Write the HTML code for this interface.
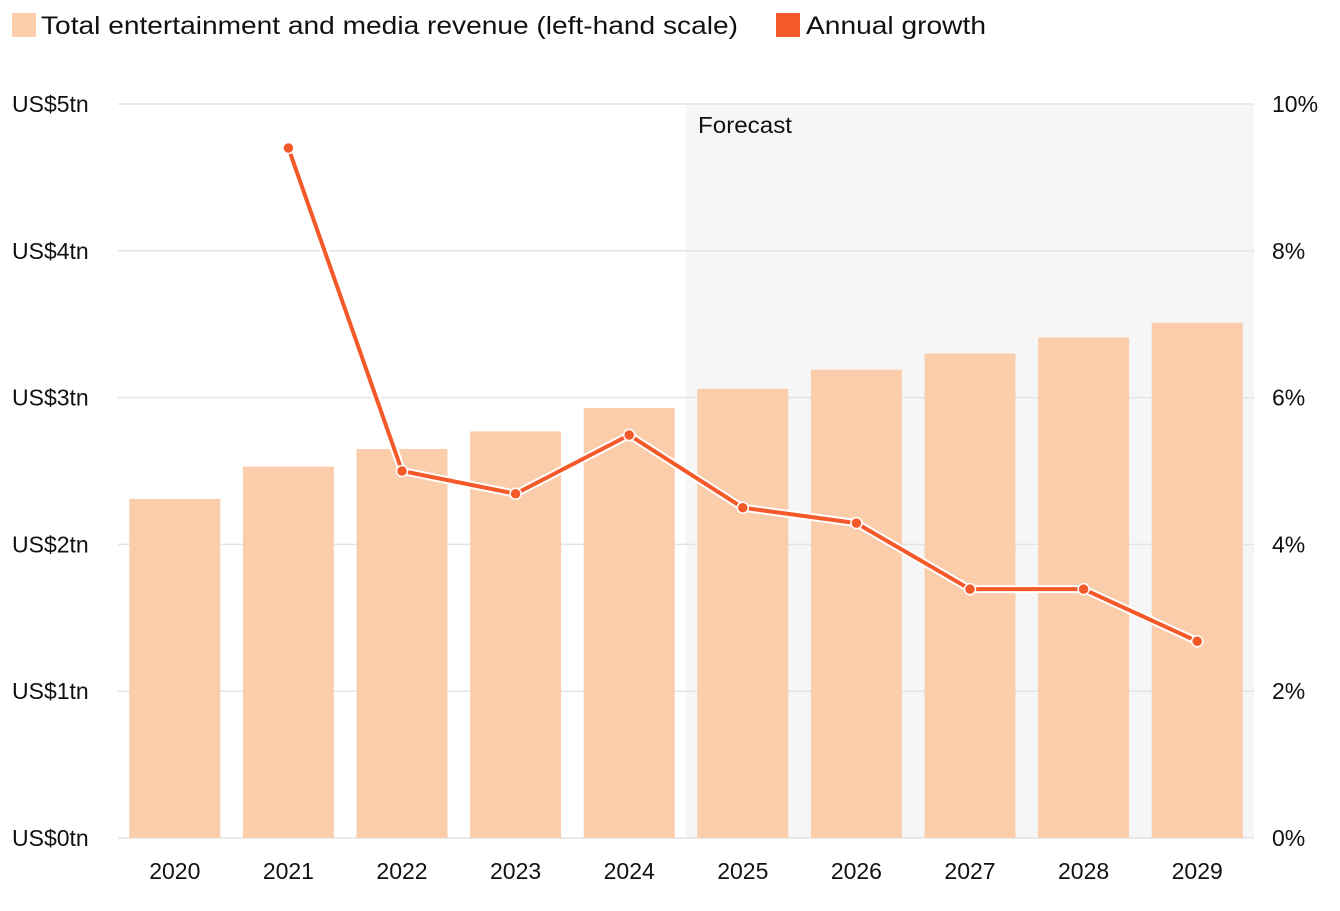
<!DOCTYPE html>
<html><head><meta charset="utf-8">
<style>
html,body{margin:0;padding:0;background:#fff;}
body{width:1340px;height:906px;overflow:hidden;font-family:"Liberation Sans",Arial,sans-serif;}
</style></head>
<body>
<svg id="chart" width="1340" height="906" xmlns="http://www.w3.org/2000/svg" font-family="Liberation Sans, Arial, sans-serif"></svg>
<script>
const categories = ["2020","2021","2022","2023","2024","2025","2026","2027","2028","2029"];
const revenue = [2.31,2.53,2.65,2.77,2.93,3.06,3.19,3.30,3.41,3.51];
const growth = [null,9.4,5.0,4.69,5.49,4.5,4.29,3.39,3.39,2.68];
const leftTicks = [0,1,2,3,4,5];
const leftTickLabels = ["US$0tn","US$1tn","US$2tn","US$3tn","US$4tn","US$5tn"];
const rightTickLabels = ["0%","2%","4%","6%","8%","10%"];
const forecastStart = 5;

const NS="http://www.w3.org/2000/svg";
const svg=document.getElementById('chart');
const X0=118,X1=1254,Y0=838,Y1=104;
const band=(X1-X0)/categories.length;
const yL=v=>Y0-(v/5)*(Y0-Y1);
const yR=v=>Y0-(v/10)*(Y0-Y1);
const xC=i=>X0+band*(i+0.5);
function mk(tag,attrs,parent){const e=document.createElementNS(NS,tag);for(const k in attrs)e.setAttribute(k,attrs[k]);(parent||svg).appendChild(e);return e;}

const fs=mk('rect',{x:X0+band*forecastStart,y:Y1,width:X1-(X0+band*forecastStart),height:Y0-Y1,fill:'#f6f6f6'});


const ft=mk('text',{x:X0+band*forecastStart+12,y:133,'font-size':23,fill:'#111',textLength:94,lengthAdjust:'spacingAndGlyphs'});ft.textContent='Forecast';



leftTicks.forEach((t,i)=>{
  const g=mk('line',{x1:X0,x2:X1,y1:yL(t),y2:yL(t),stroke:'#e4e4e4','stroke-width':1.5});
  
  
  const l=mk('text',{x:12,y:yL(t)+8,'font-size':23,fill:'#111'});l.textContent=leftTickLabels[i];
  
  
  const r=mk('text',{x:1272,y:yL(t)+8,'font-size':23,fill:'#111'});r.textContent=rightTickLabels[i];
  
  
});

const bw=91;
revenue.forEach((v,i)=>{
  const b=mk('rect',{x:xC(i)-bw/2,y:yL(v),width:bw,height:Y0-yL(v),fill:'#fbcdab'});
  
  
  const t=mk('text',{x:xC(i),y:879,'font-size':23,fill:'#111','text-anchor':'middle'});t.textContent=categories[i];
  
  
});

const pts=growth.map((v,i)=>v==null?null:[xC(i),yR(v)]).filter(p=>p);
const d=pts.map((p,i)=>(i?'L':'M')+p[0]+' '+p[1]).join(' ');
const lo=mk('path',{d:d,fill:'none',stroke:'#fff','stroke-width':8,'stroke-linejoin':'round'});


const ln=mk('path',{d:d,fill:'none',stroke:'#f4592a','stroke-width':4,'stroke-linejoin':'round'});


growth.forEach((v,i)=>{
  if(v==null)return;
  const c=mk('circle',{cx:xC(i),cy:yR(v),r:5.5,fill:'#f4592a',stroke:'#fff','stroke-width':1.5});
  
  
});

const l1=mk('rect',{x:12,y:13,width:24,height:24,fill:'#fbcdab'});


const lt1=mk('text',{x:41,y:34,'font-size':25,fill:'#111',textLength:697,lengthAdjust:'spacingAndGlyphs'});lt1.textContent='Total entertainment and media revenue (left-hand scale)';


const l2=mk('rect',{x:776,y:13,width:24,height:24,fill:'#f4592a'});


const lt2=mk('text',{x:806,y:34,'font-size':25,fill:'#111',textLength:180,lengthAdjust:'spacingAndGlyphs'});lt2.textContent='Annual growth';


</script>
</body></html>
